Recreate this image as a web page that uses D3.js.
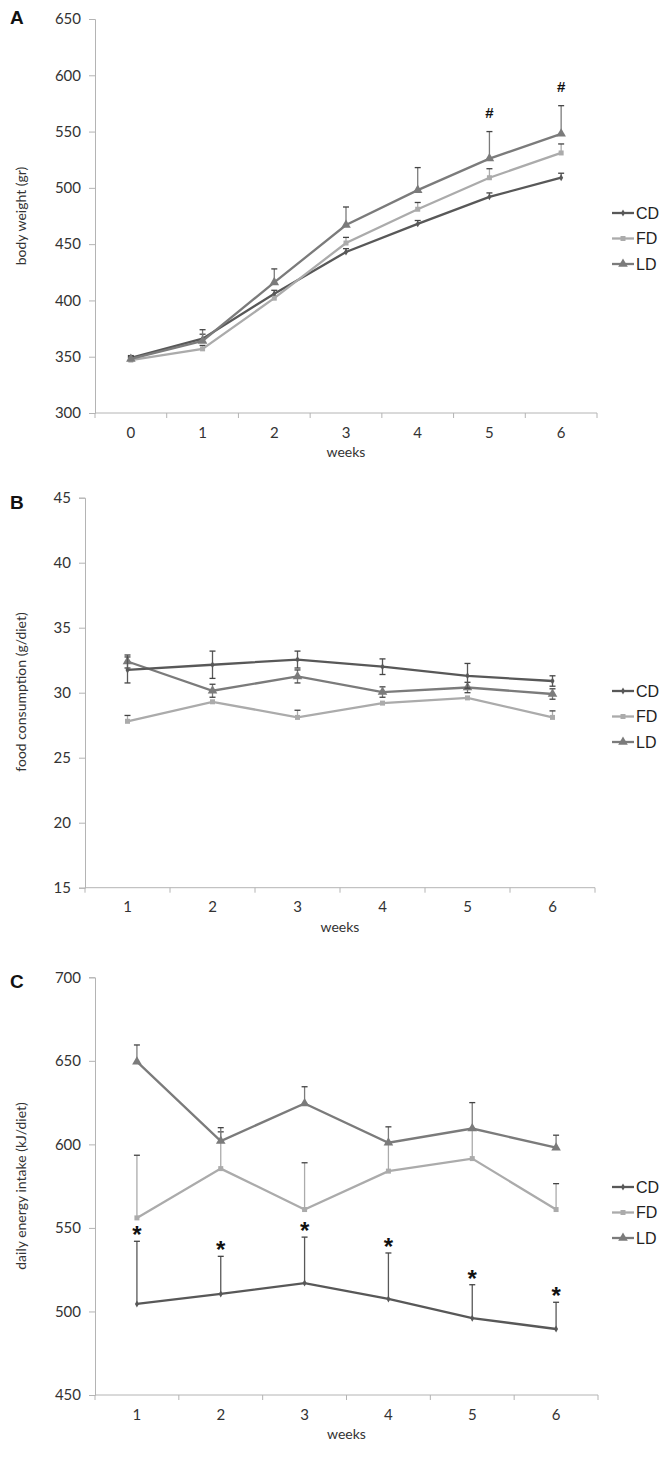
<!DOCTYPE html>
<html><head><meta charset="utf-8">
<script src="https://cdn.jsdelivr.net/npm/d3@7"></script>
<style>body{margin:0;background:#fff}svg{display:block}</style>
</head><body>
<svg id="c" width="669" height="1459"></svg>
<script>
// ---------- DATA ----------
const seriesNames = ["CD", "FD", "LD"];
// Panel A: body weight (gr)
const weeksA = ["0","1","2","3","4","5","6"];
const aTicks = [300,350,400,450,500,550,600,650];
const aCD = [349, 366, 406, 443, 468, 492, 509];
const aFD = [347, 357, 402, 451, 481, 509, 531];
const aLD = [348, 364, 416, 467, 498, 526, 548];
const aCDerrUp = [2, 4, 3, 3, 3, 3.5, 4];
const aFDerrUp = [2, 3, 2, 5, 6, 8, 8];
const aLDerrUp = [2, 10, 12, 16, 20, 24, 25];
const aMarks = ["", "", "", "", "", "#", "#"];
// Panel B: food consumption (g/diet)
const weeksB = ["1","2","3","4","5","6"];
const bTicks = [15,20,25,30,35,40,45];
const bCD = [31.75, 32.15, 32.55, 32.0, 31.3, 30.9];
const bFD = [27.8, 29.3, 28.1, 29.2, 29.6, 28.1];
const bLD = [32.4, 30.15, 31.25, 30.05, 30.4, 29.9];
const bCDerr = [1.0, 1.05, 0.65, 0.6, 0.95, 0.4];
const bFDerr = [0.45, 0.0, 0.55, 0.0, 0.0, 0.5];
const bLDerr = [0.5, 0.5, 0.5, 0.4, 0.4, 0.4];
// Panel C: daily energy intake (kJ/diet)
const weeksC = ["1","2","3","4","5","6"];
const cTicks = [450,500,550,600,650,700];
const cCD = [504.5, 510.5, 517, 507.5, 496, 489.5];
const cFD = [556, 585.5, 561, 584, 591.5, 561];
const cLD = [649.5, 602, 624.5, 601, 609.5, 598];
const cCDerrUp = [37.5, 22.5, 27.5, 27.5, 20, 16];
const cFDerrUp = [37.5, 22, 28, 17.5, 18, 15.5];
const cLDerrUp = [10, 8, 10, 9.5, 15.5, 7.5];
const cMarks = ["*", "*", "*", "*", "*", "*"];

// ---------- STYLE ----------
const colors = {CD: "#585858", FD: "#ababab", LD: "#7b7b7b"};
const axisColor = "#b4b4b4";
const tickFont = "Lato, 'Open Sans', sans-serif";
const svg = d3.select("#c");

function marker(g, name, x, y) {
  const c = colors[name];
  if (name === "CD") {
    g.append("path").attr("d", d3.symbol(d3.symbolDiamond, 14)()).attr("transform", `translate(${x},${y})`).attr("fill", c);
  } else if (name === "FD") {
    g.append("rect").attr("x", x - 2.5).attr("y", y - 2.5).attr("width", 5).attr("height", 5).attr("fill", c);
  } else {
    g.append("path").attr("d", d3.symbol(d3.symbolTriangle, 40)()).attr("transform", `translate(${x},${y})`).attr("fill", c);
  }
}

function panel(cfg) {
  const g = svg.append("g");
  const x = d3.scaleBand().domain(cfg.cats).range([cfg.x0, cfg.x1]);
  const y = d3.scaleLinear().domain(cfg.ydom).range([cfg.yb, cfg.yt]);
  const cx = d => x(d) + x.bandwidth() / 2;

  // axes
  const xa = g.append("g").attr("transform", `translate(0,${cfg.yb})`)
    .call(d3.axisBottom(x).tickSize(0).tickPadding(14));
  xa.select(".domain").remove();
  xa.selectAll("text").attr("font-family", tickFont).attr("font-size", 15).attr("fill", "#333");
  g.append("line").attr("x1", cfg.x0).attr("x2", cfg.x1).attr("y1", cfg.yb).attr("y2", cfg.yb).attr("stroke", axisColor);
  const bounds = [cfg.x0].concat(cfg.cats.map(d => x(d) + x.bandwidth()));
  g.selectAll(".xt").data(bounds).join("line").attr("x1", d => d).attr("x2", d => d)
    .attr("y1", cfg.yb).attr("y2", cfg.yb + 5).attr("stroke", axisColor);

  const ya = g.append("g").attr("transform", `translate(${cfg.x0},0)`)
    .call(d3.axisLeft(y).tickValues(cfg.yticks).tickSize(6).tickPadding(8).tickFormat(d3.format("d")));
  ya.select(".domain").attr("stroke", axisColor);
  ya.selectAll(".tick line").attr("stroke", axisColor);
  ya.selectAll("text").attr("font-family", tickFont).attr("font-size", 15).attr("fill", "#333");

  // labels
  g.append("text").attr("x", (cfg.x0 + cfg.x1) / 2).attr("y", cfg.yb + 44).attr("text-anchor", "middle")
    .attr("font-family", tickFont).attr("font-size", 14).attr("fill", "#333").text("weeks");
  g.append("text").attr("transform", `translate(${cfg.ylx},${cfg.yly}) rotate(-90)`).attr("text-anchor", "middle")
    .attr("dominant-baseline", "central")
    .attr("font-family", tickFont).attr("font-size", 14).attr("fill", "#333").text(cfg.ylabel);
  g.append("text").attr("x", 10).attr("y", cfg.letterY).attr("font-family", "Arial, 'Liberation Sans', sans-serif")
    .attr("font-weight", "bold").attr("font-size", 19).attr("fill", "#111").text(cfg.letter);

  const line = d3.line().x((d, i) => cx(cfg.cats[i])).y(d => y(d));
  // draw order: LD, FD, CD? keep as reference: CD on top
  const order = cfg.order;
  order.forEach(name => {
    const s = cfg.series[name];
    // error bars
    s.vals.forEach((v, i) => {
      const up = s.up[i], dn = s.dn ? s.dn[i] : 0;
      const X = cx(cfg.cats[i]);
      if (up > 0) {
        g.append("line").attr("x1", X).attr("x2", X).attr("y1", y(v)).attr("y2", y(v + up)).attr("stroke", colors[name]).attr("stroke-width", 1.3);
        g.append("line").attr("x1", X - 3).attr("x2", X + 3).attr("y1", y(v + up)).attr("y2", y(v + up)).attr("stroke", "#444").attr("stroke-width", 1.3);
      }
      if (dn > 0) {
        g.append("line").attr("x1", X).attr("x2", X).attr("y1", y(v)).attr("y2", y(v - dn)).attr("stroke", colors[name]).attr("stroke-width", 1.3);
        g.append("line").attr("x1", X - 3).attr("x2", X + 3).attr("y1", y(v - dn)).attr("y2", y(v - dn)).attr("stroke", "#444").attr("stroke-width", 1.3);
      }
    });
    g.append("path").datum(s.vals).attr("d", line).attr("fill", "none")
      .attr("stroke", colors[name]).attr("stroke-width", 2.3);
    s.vals.forEach((v, i) => marker(g, name, cx(cfg.cats[i]), y(v)));
  });

  // significance marks
  if (cfg.marks) {
    cfg.marks.vals.forEach((m, i) => {
      if (!m) return;
      const s = cfg.series[cfg.marks.on];
      const top = y(s.vals[i] + s.up[i]);
      g.append("text").attr("x", cx(cfg.cats[i])).attr("y", top - cfg.marks.gap)
        .attr("text-anchor", "middle").attr("font-family", "Arial, 'Liberation Sans', sans-serif")
        .attr("font-weight", "bold").attr("font-size", cfg.marks.size).attr("fill", "#111").text(m);
    });
  }

  // legend
  seriesNames.forEach((name, i) => {
    const ly = cfg.legY + i * 25.5;
    g.append("line").attr("x1", 612).attr("x2", 634).attr("y1", ly).attr("y2", ly)
      .attr("stroke", colors[name]).attr("stroke-width", 2.3);
    marker(g, name, 623, ly);
    g.append("text").attr("x", 636).attr("y", ly).attr("dominant-baseline", "central")
      .attr("font-family", "Arial, 'Liberation Sans', sans-serif").attr("font-size", 16).attr("fill", "#222").text(name);
  });
}

panel({
  cats: weeksA, x0: 95, x1: 597, ydom: [300, 650], yb: 413, yt: 19, yticks: aTicks,
  ylabel: "body weight (gr)", ylx: 20, yly: 216, letter: "A", letterY: 24,
  order: ["CD", "FD", "LD"],
  series: {CD: {vals: aCD, up: aCDerrUp}, FD: {vals: aFD, up: aFDerrUp}, LD: {vals: aLD, up: aLDerrUp}},
  marks: {vals: aMarks, on: "LD", gap: 14, size: 15},
  legY: 213
});
panel({
  cats: weeksB, x0: 85, x1: 595, ydom: [15, 45], yb: 887.7, yt: 497.7, yticks: bTicks,
  ylabel: "food consumption (g/diet)", ylx: 20, yly: 692, letter: "B", letterY: 509,
  order: ["FD", "LD", "CD"],
  series: {CD: {vals: bCD, up: bCDerr, dn: bCDerr}, FD: {vals: bFD, up: bFDerr}, LD: {vals: bLD, up: bLDerr, dn: bLDerr}},
  legY: 691
});
panel({
  cats: weeksC, x0: 95, x1: 598, ydom: [450, 700], yb: 1395, yt: 977.3, yticks: cTicks,
  ylabel: "daily energy intake (kJ/diet)", ylx: 20, yly: 1186, letter: "C", letterY: 988,
  order: ["CD", "FD", "LD"],
  series: {CD: {vals: cCD, up: cCDerrUp}, FD: {vals: cFD, up: cFDerrUp}, LD: {vals: cLD, up: cLDerrUp}},
  marks: {vals: cMarks, on: "CD", gap: -2, size: 24},
  legY: 1187
});
</script>
</body></html>
